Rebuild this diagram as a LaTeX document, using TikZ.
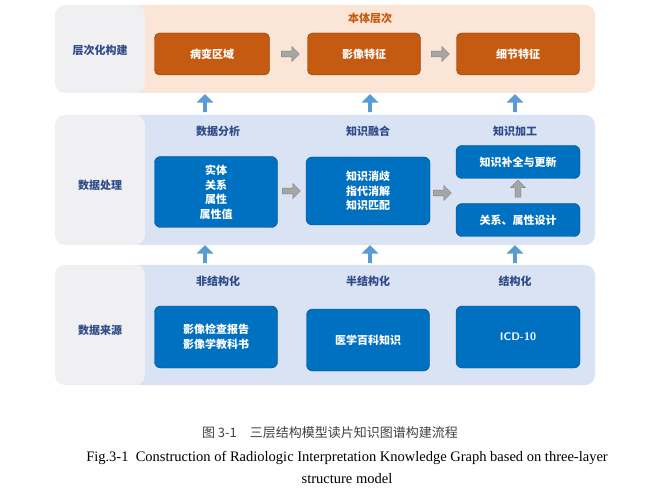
\documentclass[tikz,border=0pt]{standalone}
\usepackage{fontspec}
\newfontfamily\cjk{Noto Sans CJK SC}
\setmainfont{Liberation Serif}
\usetikzlibrary{shapes.arrows}
\definecolor{peach}{HTML}{FBE5D6}
\definecolor{lblue}{HTML}{DAE3F3}
\definecolor{lgray}{HTML}{F0F0F2}
\definecolor{ora}{HTML}{C55A11}
\definecolor{blu}{HTML}{0070C0}
\definecolor{navy}{HTML}{2F4B8A}
\definecolor{garrow}{HTML}{A6A6A6}
\definecolor{barrow}{HTML}{5B9BD5}
\tikzset{
 x=1pt,y=-1pt,
 obox/.style={draw=ora!60!black,fill=ora,rounded corners=5pt,text=white,font=\cjk\bfseries\fontsize{11}{13}\selectfont},
 bbox/.style={draw=blu!70!black,fill=blu,rounded corners=6pt,text=white,font=\cjk\bfseries\fontsize{11}{14.5}\selectfont,align=center},
 lab/.style={text=navy,font=\cjk\bfseries\fontsize{11}{13}\selectfont},
 garr/.style={single arrow,fill=garrow,draw=gray,minimum height=18pt,minimum width=15pt,single arrow head extend=2pt,inner sep=1pt},
 uarr/.style={single arrow,fill=barrow,draw=none,minimum height=18pt,minimum width=17pt,single arrow head extend=4pt,inner sep=1pt,shape border rotate=90},
}
\begin{document}
\begin{tikzpicture}
\useasboundingbox (0,0) rectangle (669,494);
% panels
\fill[peach,rounded corners=10pt] (130,5) rectangle (595,93);
\fill[lgray,rounded corners=10pt] (55,5) rectangle (145,93);
\fill[lblue,rounded corners=10pt] (130,115) rectangle (595,245);
\fill[lgray,rounded corners=10pt] (55,115) rectangle (145,245);
\fill[lblue,rounded corners=10pt] (130,265) rectangle (595,385);
\fill[lgray,rounded corners=10pt] (55,265) rectangle (145,385);
\node[lab] (l1) at (100,50) {层次化构建};
\node[lab] (l2) at (100,185) {数据处理};
\node[lab] (l3) at (100,330) {数据来源};
% top
\node[font=\cjk\bfseries\fontsize{11}{13}\selectfont,text=ora] (t0) at (370,18) {本体层次};
\node[obox,minimum width=115pt,minimum height=42pt] (t1) at (212,54) {病变区域};
\node[obox,minimum width=113pt,minimum height=42pt] (t2) at (364,54) {影像特征};
\node[obox,minimum width=123pt,minimum height=42pt] (t3) at (518,54) {细节特征};
\node[garr] (ga1) at (289,54) {};
\node[garr] (ga2) at (439,54) {};
% middle
\node[lab] (m0a) at (218,131) {数据分析};
\node[lab] (m0b) at (368,131) {知识融合};
\node[lab] (m0c) at (515,131) {知识加工};
\node[bbox,minimum width=123pt,minimum height=71pt] (m1) at (216,192) {实体\\关系\\属性\\属性值};
\node[bbox,minimum width=124pt,minimum height=68pt] (m2) at (368,191) {知识消歧\\指代消解\\知识匹配};
\node[bbox,minimum width=124pt,minimum height=33pt] (m3) at (518,162) {知识补全与更新};
\node[bbox,minimum width=124pt,minimum height=33pt] (m4) at (518,220) {关系、属性设计};
\node[garr] (ga3) at (290,191) {};
\node[garr] (ga4) at (441,193) {};
\node[garr,shape border rotate=90,minimum height=17pt] (ga5) at (518,190) {};
% bottom
\node[lab] (b0a) at (218,281) {非结构化};
\node[lab] (b0b) at (368,281) {半结构化};
\node[lab] (b0c) at (515,281) {结构化};
\node[bbox,minimum width=123pt,minimum height=62pt] (b1) at (216,337) {影像检查报告\\影像学教科书};
\node[bbox,minimum width=123pt,minimum height=62pt] (b2) at (368,340) {医学百科知识};
\node[bbox,minimum width=124pt,minimum height=62pt,font=\sffamily\bfseries\fontsize{11}{13}\selectfont] (b3) at (518,337) {ICD-10};
% up arrows
\foreach \x/\n in {205/u1,370/u2,515/u3} {
 \node[uarr] (\n a) at (\x,104) {};
 \node[uarr] (\n b) at (\x,255) {};
}
% caption
\node[font=\cjk\fontsize{13}{15}\selectfont,text=black!75] (c1) at (330,433) {图 3-1\quad 三层结构模型读片知识图谱构建流程};
\node[font=\fontsize{14.5}{22}\selectfont,align=center] (c2) at (347,467) {Fig.3-1\ \ Construction of Radiologic Interpretation Knowledge Graph based on three-layer\\structure model};
\end{tikzpicture}
\end{document}
